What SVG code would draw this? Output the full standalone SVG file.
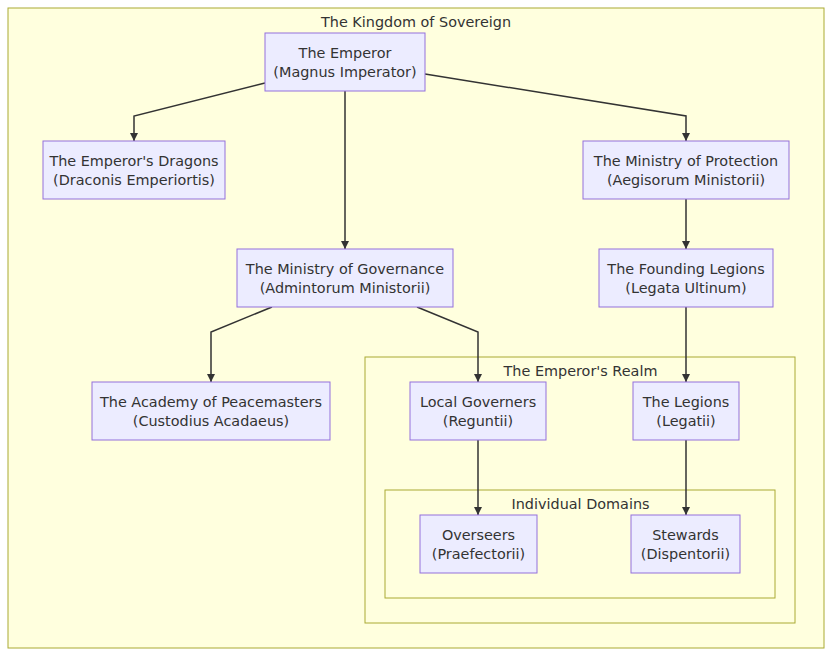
<svg xmlns="http://www.w3.org/2000/svg" width="832" height="656" viewBox="0 0 832 656">
<style>
.cl{fill:#ffffde;stroke:#aaaa33;stroke-width:1}
.nd{fill:#ececff;stroke:#9370db;stroke-width:1}
text{font-family:"DejaVu Sans",Verdana,sans-serif;font-size:14.4px;fill:#333;text-anchor:middle}
.e{fill:none;stroke:#333;stroke-width:1.5;marker-end:url(#arr)}
</style>
<defs>
<marker id="arr" viewBox="0 0 10 10" refX="10" refY="5" markerUnits="userSpaceOnUse" markerWidth="8" markerHeight="8" orient="auto">
<path d="M0,0 L10,5 L0,10 z" fill="#333"/>
</marker>
</defs>
<rect width="832" height="656" fill="#fff"/>
<g id="cluster-kingdom"><rect class="cl" x="8" y="8" width="816" height="640"/><text x="416" y="27">The Kingdom of Sovereign</text></g>
<g id="cluster-realm"><rect class="cl" x="365" y="357" width="430" height="266"/><text x="580.5" y="376">The Emperor's Realm</text></g>
<g id="cluster-domains"><rect class="cl" x="385" y="490" width="390" height="108"/><text x="580.5" y="509">Individual Domains</text></g>
<g id="edges">
<path class="e" d="M265,83 L134,116 L134,141"/>
<path class="e" d="M425,74 L686,116 L686,141"/>
<path class="e" d="M345,91 L345,249"/>
<path class="e" d="M686,199 L686,249"/>
<path class="e" d="M272,307 L211,332 L211,382"/>
<path class="e" d="M417,307 L478,332 L478,382"/>
<path class="e" d="M686,307 L686,382"/>
<path class="e" d="M478,440 L478,515"/>
<path class="e" d="M686,440 L686,515"/>
</g>
<g id="emperor"><rect class="nd" x="265" y="33" width="160" height="58"/><text x="345" y="58">The Emperor</text><text x="345" y="77">(Magnus Imperator)</text></g>
<g id="dragons"><rect class="nd" x="43" y="141" width="182" height="58"/><text x="134" y="166">The Emperor's Dragons</text><text x="134" y="185">(Draconis Emperiortis)</text></g>
<g id="protection"><rect class="nd" x="583" y="141" width="206" height="58"/><text x="686" y="166">The Ministry of Protection</text><text x="686" y="185">(Aegisorum Ministorii)</text></g>
<g id="governance"><rect class="nd" x="237" y="249" width="216" height="58"/><text x="345" y="274">The Ministry of Governance</text><text x="345" y="293">(Admintorum Ministorii)</text></g>
<g id="founding"><rect class="nd" x="599" y="249" width="174" height="58"/><text x="686" y="274">The Founding Legions</text><text x="686" y="293">(Legata Ultinum)</text></g>
<g id="academy"><rect class="nd" x="92" y="382" width="238" height="58"/><text x="211" y="407">The Academy of Peacemasters</text><text x="211" y="426">(Custodius Acadaeus)</text></g>
<g id="local"><rect class="nd" x="410" y="382" width="136" height="58"/><text x="478" y="407">Local Governers</text><text x="478" y="426">(Reguntii)</text></g>
<g id="legions"><rect class="nd" x="633" y="382" width="106" height="58"/><text x="686" y="407">The Legions</text><text x="686" y="426">(Legatii)</text></g>
<g id="overseers"><rect class="nd" x="420" y="515" width="117" height="58"/><text x="478.5" y="540">Overseers</text><text x="478.5" y="559">(Praefectorii)</text></g>
<g id="stewards"><rect class="nd" x="631" y="515" width="109" height="58"/><text x="685.5" y="540">Stewards</text><text x="685.5" y="559">(Dispentorii)</text></g>
</svg>
